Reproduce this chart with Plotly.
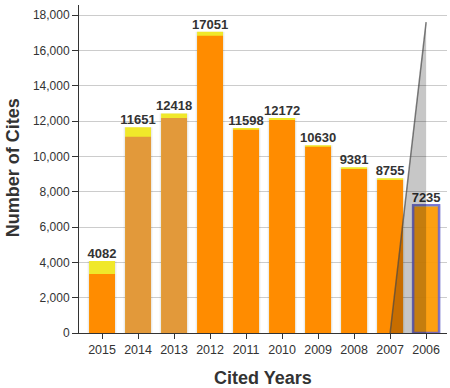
import plotly.graph_objects as go

years = ["2015", "2014", "2013", "2012", "2011", "2010", "2009", "2008", "2007", "2006"]
totals = [4082, 11651, 12418, 17051, 11598, 12172, 10630, 9381, 8755, 7235]
orange_part = [3340, 11110, 12170, 16830, 11500, 12050, 10540, 9280, 8660, 7150]
triangle_top = 17600

ORANGE = "#ff8c00"
MUTED = "#e2993a"
YELLOW = "#f0e82a"
orange_colors = [ORANGE, MUTED, MUTED] + [ORANGE] * 6 + ["rgba(255,140,0,0.78)"]
yellow_colors = [YELLOW] * 9 + ["rgba(240,232,42,0.78)"]
FONT = "Liberation Sans, Arial, sans-serif"

idx = list(range(len(years)))

fig = go.Figure()
# shadow
fig.add_trace(go.Bar(x=idx, y=totals, width=0.8, marker=dict(color="rgba(0,0,0,0.07)",
              line=dict(width=0)), hoverinfo="skip", showlegend=False))
# yellow (full height)
fig.add_trace(go.Bar(x=idx, y=totals, width=0.72, marker=dict(color=yellow_colors, line=dict(width=0)),
              showlegend=False))
# orange
fig.add_trace(go.Bar(x=idx, y=orange_part, width=0.72, marker=dict(color=orange_colors, line=dict(width=0)),
              showlegend=False))
# highlight border on last bar
fig.add_trace(go.Bar(x=[idx[-1]], y=[totals[-1]], width=0.72,
              marker=dict(color="rgba(0,0,0,0)", line=dict(color="rgba(100,100,215,0.85)", width=2.5)),
              showlegend=False))
# labels
fig.add_trace(go.Scatter(x=idx, y=totals, mode="text", text=[f"<b>{v}</b>" for v in totals],
              textposition="top center", textfont=dict(family=FONT, size=13, color="#333333"),
              showlegend=False, cliponaxis=False))

i7 = years.index("2007")
i6 = years.index("2006")
fig.add_shape(type="path", xref="x", yref="y",
              path=f"M {i6},{triangle_top} L {i7},0 L {i6},0 Z",
              fillcolor="rgba(0,0,0,0.22)", line=dict(width=0), layer="above")
fig.add_shape(type="line", xref="x", yref="y", x0=i6, y0=triangle_top, x1=i7, y1=0,
              line=dict(color="rgba(70,70,70,0.7)", width=1.5), layer="above")

fig.update_layout(
    width=450, height=388,
    margin=dict(l=79, r=3, t=5, b=55),
    barmode="overlay",
    plot_bgcolor="white", paper_bgcolor="white",
    font=dict(family=FONT, size=12, color="#333333"),
    xaxis=dict(
        tickmode="array", tickvals=idx, ticktext=years,
        range=[-0.64, 9.58],
        showgrid=False, showline=True, linecolor="#333333", linewidth=1,
        ticks="outside", ticklen=5, tickcolor="#333333",
        tickfont=dict(family=FONT, size=12.5, color="#333333"),
        zeroline=False,
    ),
    yaxis=dict(
        range=[0, 18566], tickmode="linear", tick0=0, dtick=2000, tickformat=",",
        showgrid=True, gridcolor="#cccccc", gridwidth=1,
        showline=True, linecolor="#333333", linewidth=1,
        ticks="outside", ticklen=6, tickcolor="#333333",
        tickfont=dict(family=FONT, size=12, color="#333333"),
        zeroline=False,
    ),
    annotations=[
        dict(text="<b>Cited Years</b>", xref="paper", yref="paper", x=0.5, y=-0.137,
             xanchor="center", yanchor="middle", showarrow=False,
             font=dict(family=FONT, size=18, color="#333333")),
        dict(text="<b>Number of Cites</b>", xref="paper", yref="paper", x=-0.179, y=0.503,
             xanchor="center", yanchor="middle", showarrow=False, textangle=-90,
             font=dict(family=FONT, size=18, color="#333333")),
    ],
)

fig.write_html("out.html", config={"displayModeBar": False},
               post_script="document.body.style.margin='0';document.body.style.padding='0';")
